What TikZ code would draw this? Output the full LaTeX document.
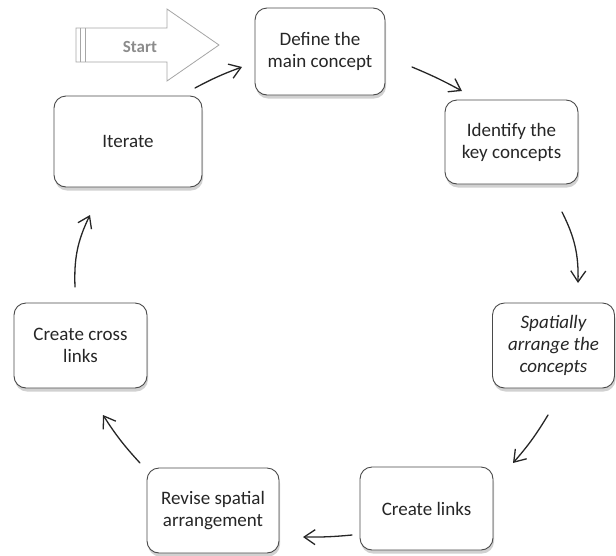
\documentclass[tikz,border=0pt]{standalone}
\usepackage{fontspec}
\setmainfont{Carlito}
\usetikzlibrary{shadows,arrows.meta,calc}
\definecolor{boxline}{HTML}{4A4A4A}
\definecolor{arrowc}{HTML}{262626}
\definecolor{startc}{HTML}{A6A6A6}
\definecolor{starttext}{HTML}{8C8C8C}
\tikzset{
  stepbox/.style={draw=boxline, line width=0.9pt, fill=white, rounded corners=12pt,
    align=center, font=\fontsize{19}{22}\selectfont, text=black!85,
    inner sep=0pt,
    drop shadow={shadow xshift=1pt, shadow yshift=-3.5pt, opacity=0.3, fill=black!60}},
  flow/.style={draw=arrowc, line width=1.3pt, line cap=round,
    -{Straight Barb[length=11pt,width=15pt,line width=1.3pt]}}
}
\begin{document}
\begin{tikzpicture}[x=1pt,y=-1pt]
\useasboundingbox (0,0) rectangle (616,555);
% start arrow
\draw[startc, line width=0.8pt, fill=white]
  (76,28) -- (167,28) -- (167,9) -- (219,45) -- (167,81) -- (167,62) -- (76,62) -- cycle;
\draw[startc, line width=0.8pt] (80.5,28) -- (80.5,62) (85,28) -- (85,62);
\node[text=starttext, font=\fontsize{17}{20}\selectfont\bfseries] (start) at (140,47) {Start};
% boxes
\node[stepbox, minimum width=130pt, minimum height=87pt] (def) at (320,51.5) {Define the\\main concept};
\node[stepbox, minimum width=133pt, minimum height=84pt] (idf) at (511.5,142) {Identify the\\key concepts};
\node[stepbox, minimum width=122pt, minimum height=85pt] (spa) at (553.5,345.5) {\itshape Spatially\\\itshape arrange the\\\itshape concepts};
\node[stepbox, minimum width=133pt, minimum height=83pt] (lnk) at (426.5,508.5) {Create links};
\node[stepbox, minimum width=132pt, minimum height=85pt] (rev) at (213,510.5) {Revise spatial\\arrangement};
\node[stepbox, minimum width=133pt, minimum height=85pt] (crs) at (80.5,345.5) {Create cross\\links};
\node[stepbox, minimum width=148pt, minimum height=91pt] (itr) at (128,141.5) {Iterate};
% connector end points
\coordinate (a1s) at (195,88);  \coordinate (a1e) at (242,67);
\coordinate (a2s) at (412,67);  \coordinate (a2e) at (462,91);
\coordinate (a3s) at (562,212); \coordinate (a3e) at (578,283);
\coordinate (a4s) at (548,415); \coordinate (a4e) at (513,463);
\coordinate (a5s) at (352,535); \coordinate (a5e) at (303,537);
\coordinate (a6s) at (140,463); \coordinate (a6e) at (103,415);
\coordinate (a7s) at (75,287);  \coordinate (a7e) at (90,215);
\draw[flow] (a1s) to[bend left=4] (a1e);
\draw[flow] (a2s) to[bend left=3] (a2e);
\draw[flow] (a3s) to[bend left=14] (a3e);
\draw[flow] (a4s) to[bend left=5] (a4e);
\draw[flow] (a5s) to[bend left=3] (a5e);
\draw[flow] (a6s) to[bend left=5] (a6e);
\draw[flow] (a7s) to[bend left=14] (a7e);
\end{tikzpicture}
\end{document}
